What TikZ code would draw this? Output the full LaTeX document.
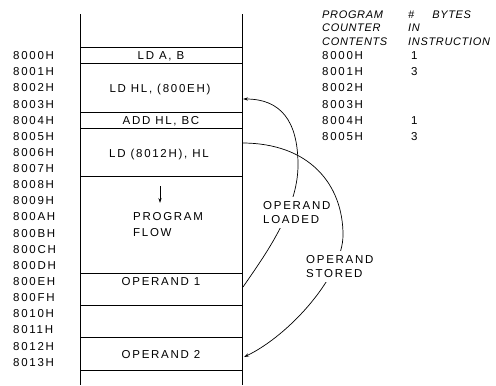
\documentclass[tikz,border=0pt]{standalone}
\usepackage{fontspec}
\setmainfont{Liberation Sans}[LetterSpace=15]
\newfontfamily\hdrfont{Liberation Sans}[LetterSpace=6]
\usetikzlibrary{arrows.meta}
\begin{document}
\begin{tikzpicture}[x=1bp,y=-1bp,
  every node/.style={inner sep=0pt, text height=8.2bp, text depth=0pt},
  txt/.style={font=\fontsize{11.5bp}{14bp}\selectfont},
  addr/.style={txt, anchor=west},
  instr/.style={txt, anchor=center},
  hdr/.style={font=\fontsize{11bp}{14bp}\hdrfont\itshape, anchor=west},
  memline/.style={line width=0.8bp},
  conn/.style={line width=0.7bp},
  tip/.style={-{Stealth[length=5bp,width=3.2bp]}},
  note/.style={txt, align=left, fill=white, inner sep=4bp, text height=, text depth=}
]
\useasboundingbox (0,0) rectangle (496,385);

% memory column
\draw[memline] (80,14) -- (80,385);
\draw[memline] (242,14) -- (242,385);
\foreach \yy in {47.5,63.6,111.9,128.1,176.5,273.3,305.6,337.8,370.1}
  \draw[memline] (80,\yy) -- (242,\yy);

% addresses
\foreach \a [count=\k from 0] in {8000H,8001H,8002H,8003H,8004H,8005H,8006H,8007H,8008H,8009H,800AH,800BH,800CH,800DH,800EH,800FH,8010H,8011H,8012H,8013H}
  \node[addr] (ad\k) at (13,{47.5+16.13*(\k+0.5)}) {\a};

% contents
\node[instr] (i1) at (161,55.6) {LD A, B};
\node[instr] (i2) at (160,88) {LD HL, (800EH)};
\node[instr] (i3) at (161,120) {ADD HL, BC};
\node[instr] (i4) at (159,153) {LD (8012H), HL};
\node[instr] (op1) at (161,281.4) {OPERAND 1};
\node[instr] (op2) at (161,354) {OPERAND 2};

% program flow
\node[txt, align=left, anchor=north west, text height=, text depth=] (flow) at (133,212) {PROGRAM\\[2.6bp]FLOW};
\coordinate (flowtop) at (160,186);
\draw[conn, tip, shorten >=9bp] (flowtop) -- (flowtop |- flow.north);

% right table
\node[hdr] (h1) at (322,14) {PROGRAM};
\node[hdr] (h2) at (322,27.5) {COUNTER};
\node[hdr] (h3) at (322,41) {CONTENTS};
\node[hdr] (h4) at (408,14) {\#\hspace{18bp}BYTES};
\node[hdr] (h5) at (408,27.5) {IN};
\node[hdr] (h6) at (408,41) {INSTRUCTION};
\foreach \a [count=\k from 0] in {8000H,8001H,8002H,8003H,8004H,8005H}
  \node[addr] (pc\k) at (322,{47.5+16.13*(\k+0.5)}) {\a};
\node[addr] (n0) at (411,55.6) {1};
\node[addr] (n1) at (411,71.7) {3};
\node[addr] (n4) at (411,120.2) {1};
\node[addr] (n5) at (411,136.3) {3};

% connectors
\coordinate (ldhlR) at (243,99);
\coordinate (op1R) at (243,287);
\coordinate (ld2R) at (242,143);
\coordinate (op2R) at (244,357);
\draw[conn, tip] (op1R) .. controls (265,255) and (298,210) .. (298,165)
   .. controls (298,120) and (280,99) .. (ldhlR);
\draw[conn, tip] (ld2R) .. controls (310,143) and (343,185) .. (343,235)
   .. controls (343,275) and (290,335) .. (op2R);
\node[note, anchor=west] (lload) at (259,212.5) {OPERAND\\LOADED};
\node[note, anchor=west] (lstore) at (302,266.5) {OPERAND\\STORED};
\end{tikzpicture}
\end{document}
